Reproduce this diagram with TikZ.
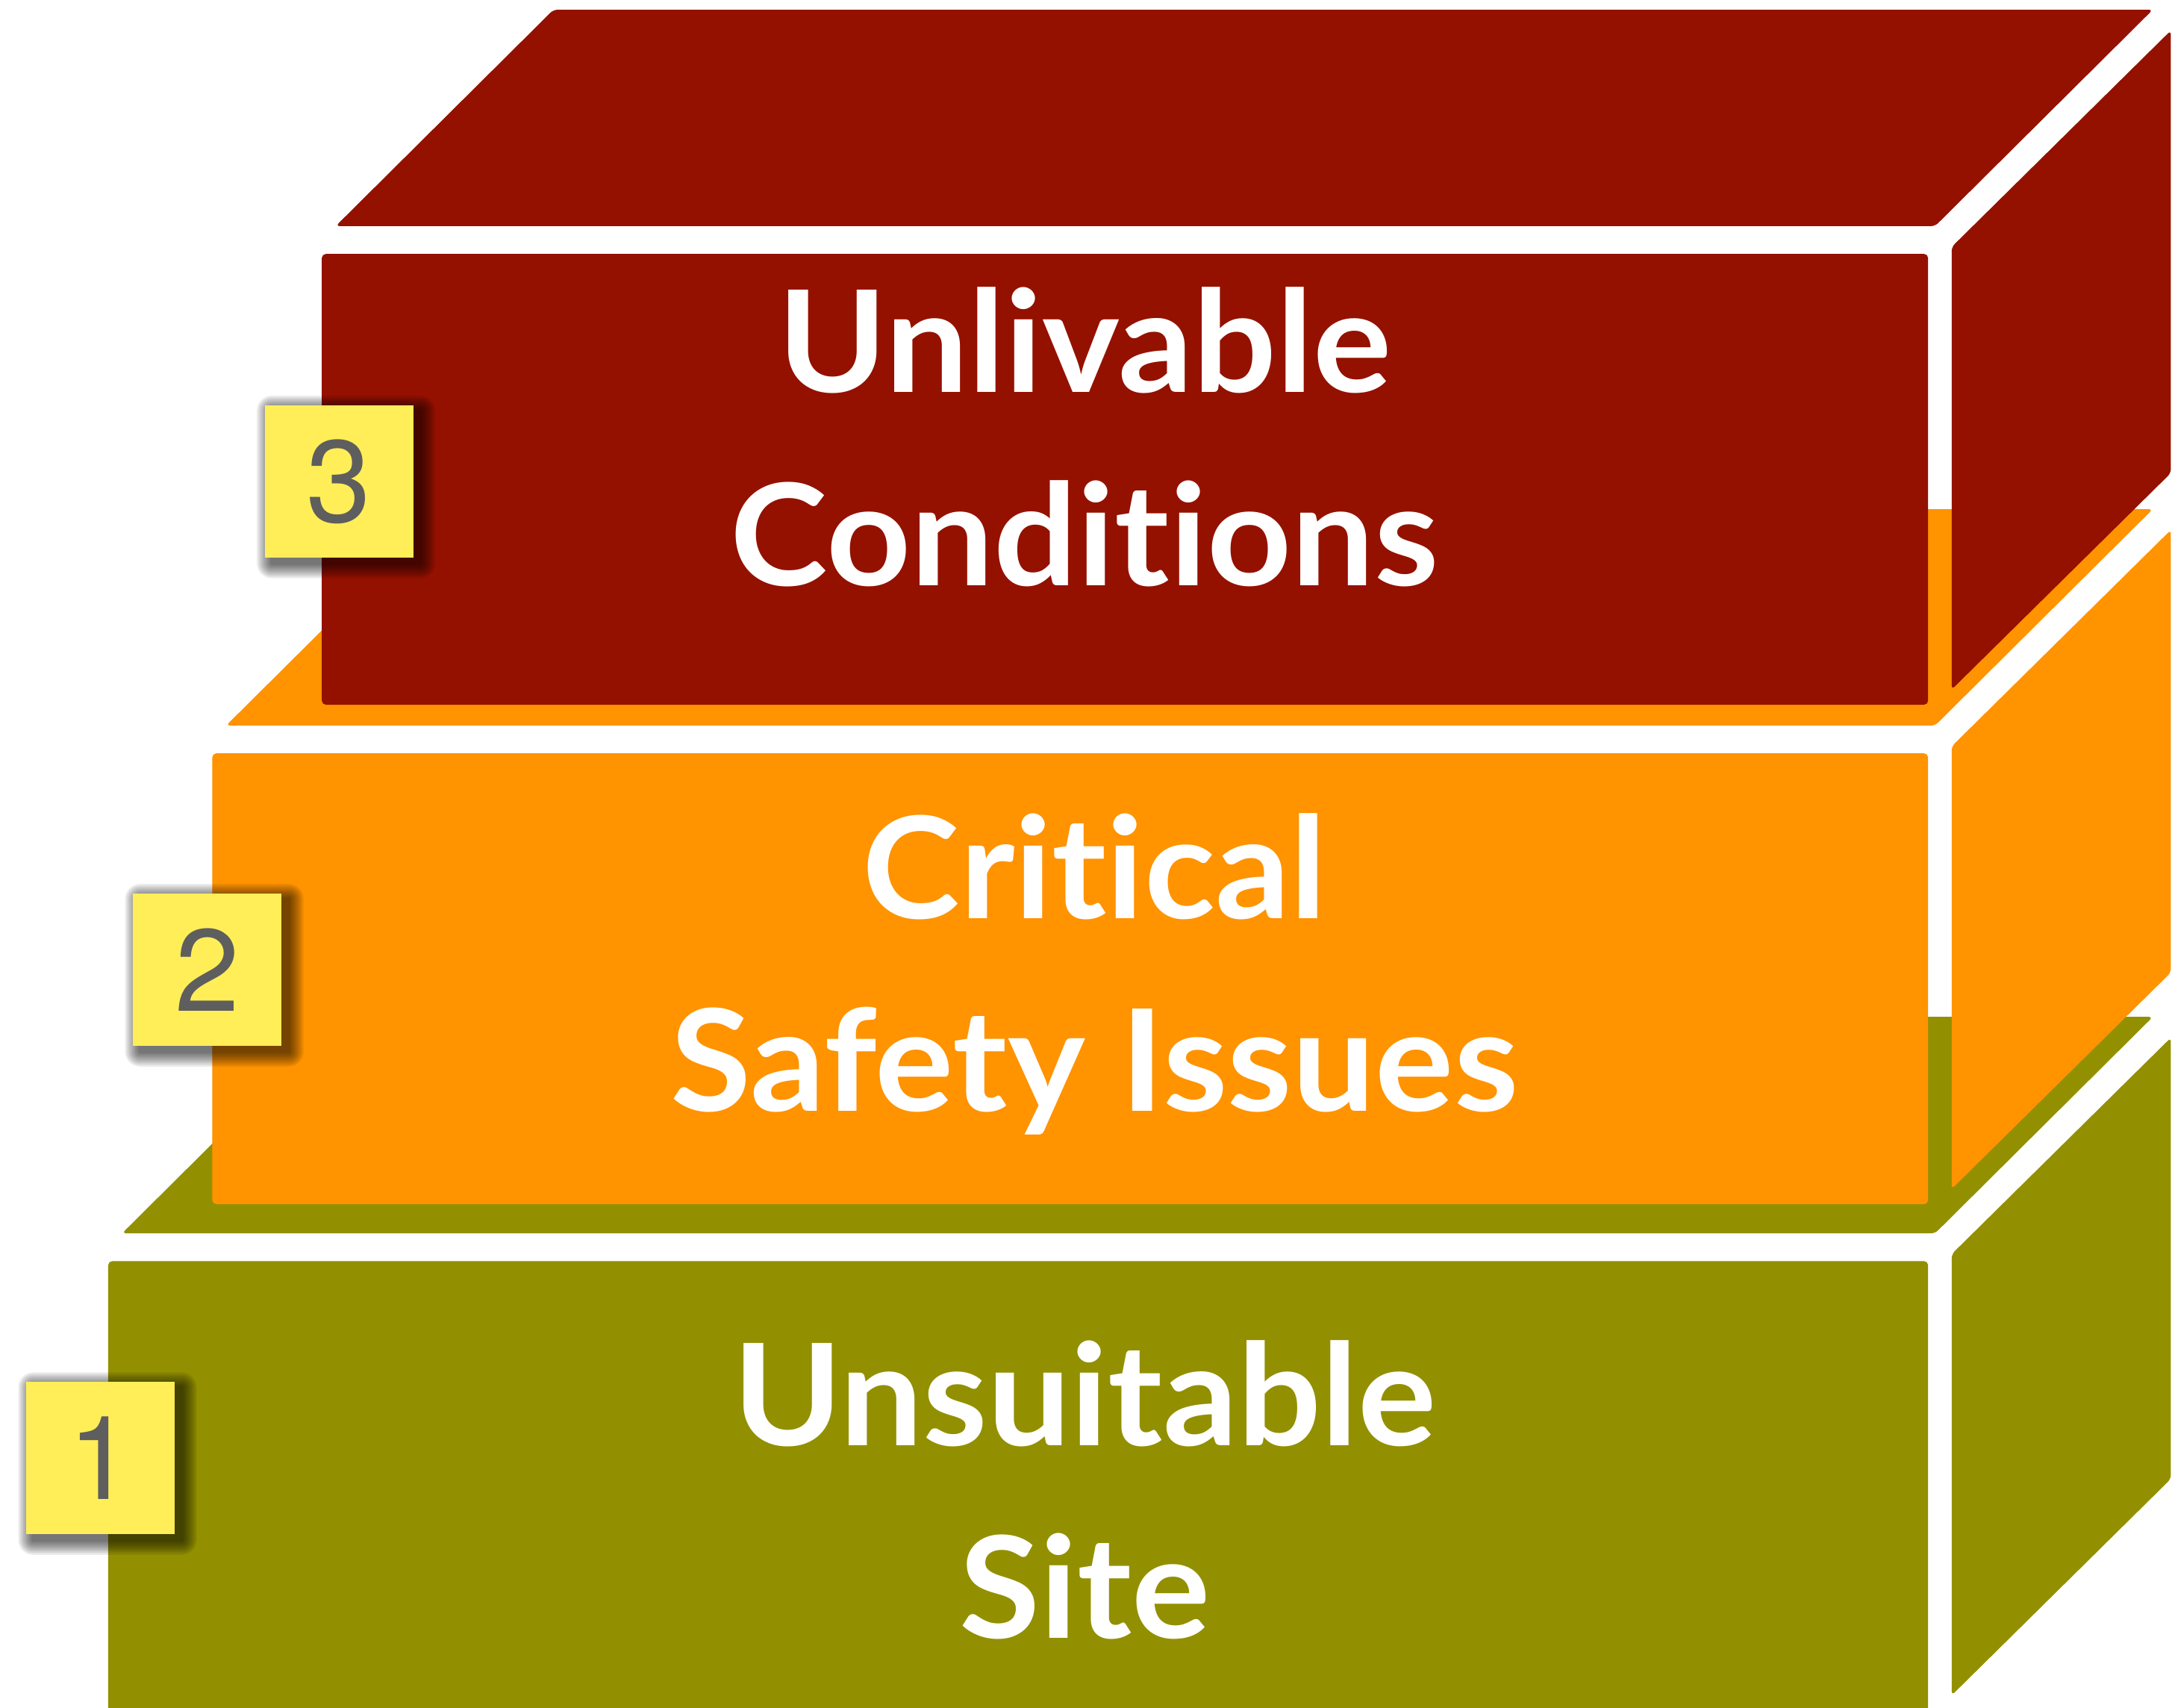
\documentclass[tikz,border=0pt]{standalone}
\usepackage{fontspec}
\setmainfont{Lato}[Ligatures={NoCommon}, FakeStretch=1.04]
\newfontfamily\digitfont{TeX Gyre Heros}
\definecolor{cred}{HTML}{941100}
\definecolor{corange}{HTML}{FF9300}
\definecolor{colive}{HTML}{929000}
\definecolor{cyellow}{HTML}{FFEE58}
\definecolor{cdigit}{HTML}{5E5E5E}
\tikzset{
  face/.style={rounded corners=3pt},
  label/.style={anchor=base, text=white, inner sep=0pt, font=\bfseries\fontsize{102}{139}\selectfont},
  numbox/.style={fill=cyellow, minimum width=107pt, minimum height=110pt, inner sep=0pt, text=cdigit, font=\digitfont\fontsize{84}{84}\selectfont},
}
\newcommand\myshadow[4]{%
  \foreach \i in {1,...,9}{%
    \fill[black, opacity=0.08, rounded corners=\i*1.2pt]
      ({#1-\i*1.2+5},{#2-\i*1.2+4}) rectangle ({#3+\i*1.2+5},{#4+\i*1.2+4});
  }%
}
\begin{document}
\begin{tikzpicture}[x=1pt,y=-1pt]
\useasboundingbox (0,0) rectangle (1568,1231);
\clip (0,0) rectangle (1568,1231);
\fill[white] (0,0) rectangle (1568,1231);
% olive block
\fill[colive,face] (88,889) -- (245,733) -- (1552,733) -- (1395,889) -- cycle;
\fill[colive,face] (78,909) rectangle (1390,1245);
\fill[colive,face] (1407,904) -- (1565,748) -- (1565,1066) -- (1407,1222) -- cycle;
% orange block
\fill[corange,face] (163,523) -- (320,367) -- (1552,367) -- (1395,523) -- cycle;
\fill[corange,face] (153,543) rectangle (1390,868);
\fill[corange,face] (1407,538) -- (1565,382) -- (1565,701) -- (1407,857) -- cycle;
% red block
\fill[cred,face] (242,163) -- (399,7) -- (1552,7) -- (1395,163) -- cycle;
\fill[cred,face] (232,183) rectangle (1390,508);
\fill[cred,face] (1407,178) -- (1565,22) -- (1565,341) -- (1407,497) -- cycle;
% labels
\node[label] (t3) at (782,283) {\begin{tabular}[t]{@{}c@{}}Unlivable\\Conditions\end{tabular}};
\node[label] (t2) at (789,662) {\begin{tabular}[t]{@{}c@{}}Critical\\Safety Issues\end{tabular}};
\node[label] (t1) at (782,1042) {\begin{tabular}[t]{@{}c@{}}Unsuitable\\Site\end{tabular}};
% number boxes
\myshadow{191}{292}{298}{402}
\node[numbox] (n3) at (244.5,347) {3};
\myshadow{96}{644}{203}{754}
\node[numbox] (n2) at (149.5,699) {2};
\myshadow{19}{996}{126}{1106}
\node[numbox] (n1) at (72.5,1051) {1};
\end{tikzpicture}
\end{document}
